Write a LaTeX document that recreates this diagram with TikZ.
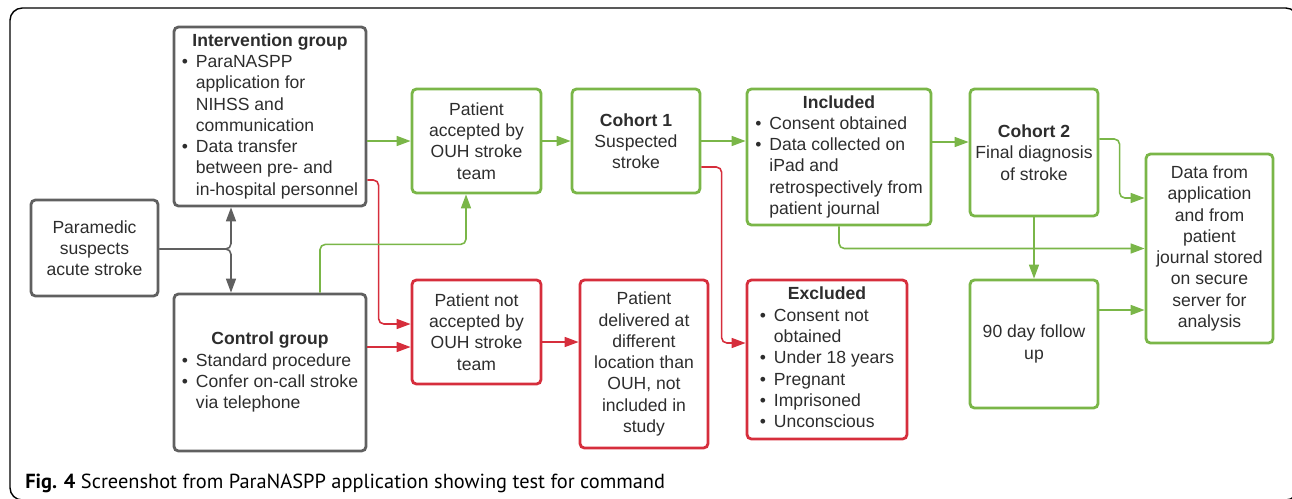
\documentclass[tikz,border=0pt]{standalone}
\usepackage{fontspec}
\setmainfont{Liberation Sans}
\newfontfamily\capfont{PT Sans}
\usetikzlibrary{arrows.meta, calc}
\definecolor{boxgreen}{RGB}{122,182,72}
\definecolor{boxred}{RGB}{214,46,60}
\definecolor{boxgray}{RGB}{96,96,96}
\definecolor{txtgray}{RGB}{45,45,45}
\tikzset{
>={Triangle[length=0.28cm,width=0.2cm]}, % filled arrow heads
x=0.02cm, y=-0.02cm, % one unit is one pixel, y runs downwards
box/.style={draw, rounded corners=2.5pt, line width=1.6pt, text=txtgray, font=\fontsize{10}{12.1}\selectfont, align=center, inner sep=0pt},
graybox/.style={box, draw=boxgray},
greenbox/.style={box, draw=boxgreen},
redbox/.style={box, draw=boxred},
link/.style={->, line width=0.9pt, rounded corners=3pt},
grayline/.style={link, draw=boxgray},
greenline/.style={link, draw=boxgreen},
redline/.style={link, draw=boxred},
}

\begin{document}
\begin{tikzpicture}
  \useasboundingbox (0,0) rectangle (1292,498);
  \begin{scope}
    \clip (0,0) rectangle (1292,498);
    \draw[line width=0.8pt, rounded corners=7pt] (10,8) rectangle (1298,500);
  \end{scope}
  % left column
  \node[graybox, minimum width=2.54cm, minimum height=1.92cm] (para) at (94.5,248) {Paramedic\\suspects\\acute stroke};
  \node[graybox, minimum width=3.84cm, minimum height=3.58cm] (intv) at (270,116.5) {%
    \begin{tabular}{@{}l@{\hspace{4.5pt}}l@{}}
      \multicolumn{2}{c}{\textbf{Intervention group}}\\
      \textbullet & ParaNASPP\\
      & application for\\
      & NIHSS and\\
      & communication\\
      \textbullet & Data transfer\\
      & between pre- and\\
      & in-hospital personnel
    \end{tabular}};
  \node[graybox, minimum width=3.84cm, minimum height=3.14cm] (ctrl) at (270,372.5) {%
    \begin{tabular}{@{}l@{\hspace{4.5pt}}l@{}}
      \multicolumn{2}{c}{\textbf{Control group}}\\
      \textbullet & Standard procedure\\
      \textbullet & Confer on-call stroke\\
      & via telephone
    \end{tabular}};
  % upper row
  \node[greenbox, minimum width=2.58cm, minimum height=2.08cm] (acc) at (476.5,141) {Patient\\accepted by\\OUH stroke\\team};
  \node[greenbox, minimum width=2.56cm, minimum height=2.08cm] (coh1) at (636,141) {\textbf{Cohort 1}\\Suspected\\stroke};
  \node[greenbox, minimum width=3.68cm, minimum height=2.72cm] (incl) at (839,157) {%
    \begin{tabular}{@{}l@{\hspace{4.5pt}}l@{}}
      \multicolumn{2}{c}{\textbf{Included}}\\
      \textbullet & Consent obtained\\
      \textbullet & Data collected on\\
      & iPad and\\
      & retrospectively from\\
      & patient journal
    \end{tabular}};
  \node[greenbox, minimum width=2.56cm, minimum height=2.54cm] (coh2) at (1034,152.5) {\textbf{Cohort 2}\\Final diagnosis\\of stroke};
  \node[greenbox, minimum width=2.54cm, minimum height=3.78cm] (data) at (1209.5,248.5) {Data from\\application\\and from\\patient\\journal stored\\on secure\\server for\\analysis};
  % lower row
  \node[redbox, minimum width=2.58cm, minimum height=2.08cm] (nacc) at (476.5,332) {Patient not\\accepted by\\OUH stroke\\team};
  \node[redbox, minimum width=2.56cm, minimum height=3.36cm] (dlv) at (644,364) {Patient\\delivered at\\different\\location than\\OUH, not\\included in\\study};
  \node[redbox, minimum width=3.2cm, minimum height=3.18cm] (excl) at (827,359.5) {%
    \begin{tabular}{@{}l@{\hspace{4.5pt}}l@{}}
      \multicolumn{2}{c}{\textbf{Excluded}}\\
      \textbullet & Consent not\\
      & obtained\\
      \textbullet & Under 18 years\\
      \textbullet & Pregnant\\
      \textbullet & Imprisoned\\
      \textbullet & Unconscious
    \end{tabular}};
  \node[greenbox, minimum width=2.56cm, minimum height=2.56cm] (fup) at (1034,344) {90 day follow\\up};
  % caption
  \node[anchor=base west, inner sep=0pt, font=\capfont\fontsize{11.6}{14}\selectfont] (cap) at (25,488) {\textbf{Fig. 4} Screenshot from ParaNASPP application showing test for command};
  % connectors
  \coordinate (split) at (231,249);
  \draw[grayline] (para.east |- split) -| (split |- intv.south);
  \draw[grayline] (para.east |- split) -| (split |- ctrl.north);
  \draw[greenline] (intv.east |- acc.west) -- (acc.west);
  \coordinate (na1) at ($(nacc.west)+(0,-8)$);
  \coordinate (na2) at ($(nacc.west)+(0,15)$);
  \draw[redline] ($(intv.east)+(0,63.5)$) -| ($(na1)+(-32,0)$) -- (na1);
  \draw[redline] (ctrl.east |- na2) -- (na2);
  \draw[greenline] ($(ctrl.north)+(50,0)$) |- ($(acc.south)+(-10.5,50)$) -- ($(acc.south)+(-10.5,0)$);
  \draw[greenline] (acc.east) -- (coh1.west);
  \draw[greenline] (coh1.east) -- (coh1.east -| incl.west);
  \coordinate (ex1) at ($(excl.west)+(0,-16.5)$);
  \draw[redline] ($(coh1.east)+(0,26)$) -| ($(ex1)+(-24,0)$) -- (ex1);
  \coordinate (dl1) at ($(nacc.east)+(0,10)$);
  \draw[redline] (dl1) -- (dl1 -| dlv.west);
  \coordinate (in1) at ($(incl.east)+(0,-15)$);
  \draw[greenline] (in1) -- (in1 -| coh2.west);
  \coordinate (da1) at ($(data.west)+(0,-50.5)$);
  \draw[greenline] ($(coh2.east)+(0,-13.5)$) -| ($(da1)+(-25,0)$) -- (da1);
  \draw[greenline] (incl.south) |- (data.west);
  \draw[greenline] (coh2.south) -- (fup.north);
  \coordinate (fu1) at ($(fup.east)+(0,-34)$);
  \draw[greenline] (fu1) -- (fu1 -| data.west);
\end{tikzpicture}
\end{document}
